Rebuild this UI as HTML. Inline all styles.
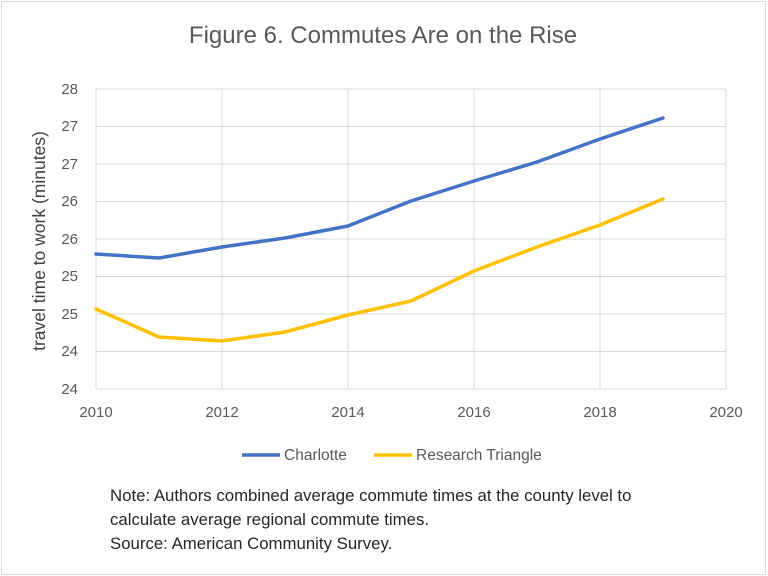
<!DOCTYPE html>
<html><head><meta charset="utf-8"><style>
body{margin:0;background:#fff;}
svg{display:block;font-family:"Liberation Sans",sans-serif;}
</style></head><body>
<svg width="768" height="576" viewBox="0 0 768 576">
<rect x="1.5" y="1.5" width="764" height="573" fill="#fff" stroke="#d9d9d9"/>
<text x="383" y="43" font-size="24" fill="#595959" text-anchor="middle">Figure 6. Commutes Are on the Rise</text>
<g stroke="#d9d9d9" stroke-width="1">
<line x1="96" y1="89" x2="726" y2="89"/><line x1="96" y1="126.5" x2="726" y2="126.5"/>
<line x1="96" y1="164" x2="726" y2="164"/><line x1="96" y1="201.5" x2="726" y2="201.5"/>
<line x1="96" y1="239" x2="726" y2="239"/><line x1="96" y1="276.5" x2="726" y2="276.5"/>
<line x1="96" y1="314" x2="726" y2="314"/><line x1="96" y1="351.5" x2="726" y2="351.5"/>
<line x1="96" y1="389" x2="726" y2="389"/>
<line x1="96" y1="89" x2="96" y2="389"/><line x1="222" y1="89" x2="222" y2="389"/>
<line x1="348" y1="89" x2="348" y2="389"/><line x1="474" y1="89" x2="474" y2="389"/>
<line x1="600" y1="89" x2="600" y2="389"/><line x1="726" y1="89" x2="726" y2="389"/>
</g>
<g font-size="15" fill="#595959" text-anchor="end">
<text x="78" y="94">28</text><text x="78" y="131">27</text><text x="78" y="169">27</text>
<text x="78" y="206">26</text><text x="78" y="244">26</text><text x="78" y="281">25</text>
<text x="78" y="319">25</text><text x="78" y="356">24</text><text x="78" y="394">24</text>
</g>
<g font-size="15" fill="#595959" text-anchor="middle">
<text x="96" y="417">2010</text><text x="222" y="417">2012</text><text x="348" y="417">2014</text>
<text x="474" y="417">2016</text><text x="600" y="417">2018</text><text x="726" y="417">2020</text>
</g>
<text transform="translate(45,241) rotate(-90)" font-size="17.5" fill="#404040" text-anchor="middle">travel time to work (minutes)</text>
<polyline fill="none" stroke="#4472c4" stroke-width="3.5" stroke-linejoin="round" stroke-linecap="round"
points="96,254 159,258 222,247 285,238 348,226 411,201 474,181 537,162 600,139 663,118"/>
<polyline fill="none" stroke="#ffc000" stroke-width="3.5" stroke-linejoin="round" stroke-linecap="round"
points="96,309 159,337 222,341 285,332 348,315 411,301 474,271 537,247 600,225 663,199"/>
<line x1="242" y1="455" x2="280" y2="455" stroke="#4472c4" stroke-width="3.5"/>
<text x="284" y="460" font-size="15.5" fill="#595959">Charlotte</text>
<line x1="374" y1="455" x2="412" y2="455" stroke="#ffc000" stroke-width="3.5"/>
<text x="416" y="460" font-size="15.5" fill="#595959">Research Triangle</text>
<g font-size="16.8" fill="#262626">
<text x="110" y="501">Note: Authors combined average commute times at the county level to</text>
<text x="110" y="525">calculate average regional commute times.</text>
<text x="110" y="549">Source: American Community Survey.</text>
</g>
</svg>
</body></html>
